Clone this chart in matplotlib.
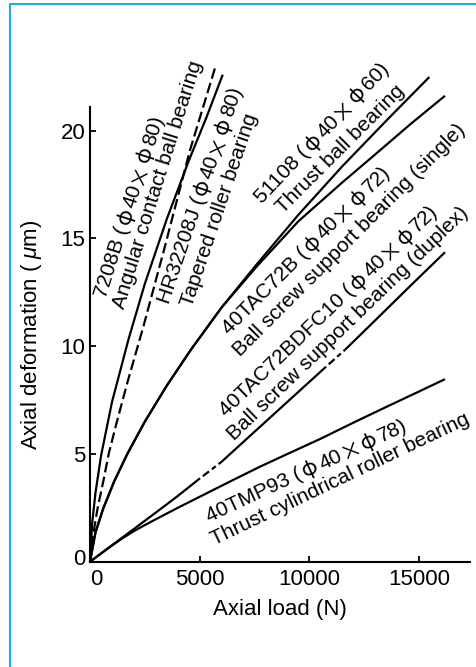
import numpy as np
import matplotlib
matplotlib.use('Agg')
import matplotlib.pyplot as plt
from matplotlib.patches import Rectangle
from matplotlib.transforms import ScaledTranslation
from matplotlib.font_manager import FontProperties

plt.rcParams['font.family'] = ['Liberation Sans', 'DejaVu Sans']
plt.rcParams['mathtext.fontset'] = 'custom'
plt.rcParams['mathtext.it'] = 'Liberation Sans:italic'
plt.rcParams['mathtext.rm'] = 'Liberation Sans'

# ---------------- data (axial load N, axial deformation um) ----------------
angular_load = [0, 100, 250, 500, 1000, 1750, 2500, 3500, 4500, 5300, 6050]
angular_def = [0, 1.8, 3.2, 4.9, 7.4, 10.3, 12.9, 15.9, 18.6, 20.6, 22.6]

tapered_load = [0, 150, 350, 600, 852, 1200, 1700, 2430, 3373, 4558, 5743]
tapered_def = [0, 1.3, 2.5, 3.7, 5.0, 6.4, 8.3, 10.9, 14.47, 19.1, 23.06]

thrustball_load = [0, 250, 600, 1100, 1700, 2500, 3500, 4600, 6000, 7600, 9500, 11500, 13500, 15465]
thrustball_def = [0, 1.36, 2.46, 3.72, 5.0, 6.5, 8.17, 9.84, 11.8, 13.8, 16.1, 18.35, 20.46, 22.49]

single_load = [0, 250, 600, 1100, 1700, 2500, 3500, 4600, 6000, 7600, 9500, 11500, 13000, 14600, 16180]
single_def = [0, 1.36, 2.46, 3.72, 5.0, 6.5, 8.17, 9.84, 11.8, 13.7, 15.8, 17.6, 18.9, 20.3, 21.62]

duplex_load = [0, 500, 1000, 1500, 2000, 3000, 4000, 5014, 6000, 7500, 9000, 10760, 11620, 13000, 14600, 16180]
duplex_def = [0, 0.38, 0.76, 1.14, 1.52, 2.28, 3.05, 3.87, 4.64, 6.03, 7.42, 9.05, 9.83, 11.2, 12.8, 14.36]
# index pairs bounding the broken (dash-dot) stretches of the duplex curve
duplex_breaks = [(7, 8), (11, 12)]

cyl_load = [0, 500, 1000, 1500, 2000, 2500, 3000, 4000, 5014, 6500, 7750, 9000, 10500, 12000, 13500, 15000, 16180]
cyl_def = [0, 0.38, 0.75, 1.1, 1.42, 1.7, 1.97, 2.5, 3.02, 3.78, 4.41, 5.0, 5.7, 6.45, 7.18, 7.9, 8.47]

x_ticks = [0, 5000, 10000, 15000]
y_ticks = [0, 5, 10, 15, 20]

# label text, centre (px from top-left), rotation (deg)
labels = [
    ("7208B (φ40×φ80)", 128, 206, 72.4),
    ("Angular contact ball bearing", 157, 184, 72.5),
    ("HR32208J (φ40×φ80)", 199, 195, 71.3),
    ("Tapered roller bearing", 218, 210, 71.3),
    ("51108 (φ40×φ60)", 321, 132, 46.5),
    ("Thrust ball bearing", 339, 148, 45),
    ("40TAC72B (φ40×φ72)", 305, 249, 45),
    ("Ball screw support bearing (single)", 348, 239, 45),
    ("40TAC72BDFC10 (φ40×φ72)", 328, 310, 44),
    ("Ball screw support bearing (duplex)", 347, 323, 44),
    ("40TMP93 (φ40×φ78)", 306, 470, 25),
    ("Thrust cylindrical roller bearing", 340, 478, 25.5),
]

W, H = 476, 667
fig = plt.figure(figsize=(W / 100, H / 100), dpi=100)
ax = fig.add_axes([90 / W, 1 - 561.7 / H, 380 / W, (561.7 - 107) / H])

# blue frame (cut by the image edges on the right and bottom)
fig.add_artist(Rectangle((10 / W, -0.2), 1.5, (1 - 4 / H) + 0.2, transform=fig.transFigure,
                         fill=False, edgecolor='#29ABE2', lw=1.5))

lw = 1.6
kw = dict(color='black', lw=lw, clip_on=False, solid_capstyle='butt')
ax.plot(angular_load, angular_def, **kw)
ax.plot(tapered_load, tapered_def, color='black', lw=lw, clip_on=False,
        linestyle=(0, (4.8, 2.0)))
ax.plot(thrustball_load, thrustball_def, **kw)
ax.plot(single_load, single_def, **kw)
ax.plot(cyl_load, cyl_def, **kw)

start = 0
for b0, b1 in duplex_breaks:
    ax.plot(duplex_load[start:b0 + 1], duplex_def[start:b0 + 1], **kw)
    ax.plot(duplex_load[b0:b1 + 1], duplex_def[b0:b1 + 1], color='black', lw=lw,
            clip_on=False, linestyle=(2.2, (2.2, 1.6, 3.5, 1.6)))
    start = b1
ax.plot(duplex_load[start:], duplex_def[start:], **kw)

ax.set_xlim(0, 17320)
ax.set_ylim(0, 21.1)
ax.set_xticks(x_ticks)
ax.set_yticks(y_ticks)
ax.set_xticklabels([str(v) for v in x_ticks])
ax.set_yticklabels([str(v) for v in y_ticks])
for s in ['top', 'right']:
    ax.spines[s].set_visible(False)
for s in ['left', 'bottom']:
    ax.spines[s].set_linewidth(1.5)
ax.tick_params(direction='in', length=4.5, width=1.3, labelsize=16)
ax.tick_params(axis='y', pad=3.5)
ax.tick_params(axis='x', pad=5)

xl0 = ax.get_xticklabels()[0]
xl0.set_transform(xl0.get_transform() + ScaledTranslation(6 / 100, 0, fig.dpi_scale_trans))
yl0 = ax.get_yticklabels()[0]
yl0.set_transform(yl0.get_transform() + ScaledTranslation(0, 5 / 100, fig.dpi_scale_trans))

ax.set_xlabel("Axial load (N)", fontsize=16)
ax.set_ylabel("Axial deformation ( $\\mu$m)", fontsize=16)
ax.xaxis.set_label_coords(0.5, -0.082)
ax.yaxis.set_label_coords(-0.121, 0.5)

# ---- rotated labels: Latin in Liberation Sans, φ and × full width from a CJK font ----
LATIN = ['Liberation Sans', 'DejaVu Sans']
CJK = ['Noto Sans CJK JP', 'DejaVu Sans']
FS = 15
EM = FS * 100 / 72
renderer = fig.canvas.get_renderer()


def split_parts(s):
    parts = []
    for ch in s:
        if ch in 'φ×':
            parts.append([ch, CJK])
        elif parts and parts[-1][1] is LATIN:
            parts[-1][0] += ch
        else:
            parts.append([ch, LATIN])
    return parts


def rotated_label(s, cx, cy, rot):
    parts = split_parts(s)
    widths = []
    for txt, fam in parts:
        if fam is CJK:
            widths.append(EM)
        else:
            fp = FontProperties(family=fam, size=FS)
            w, h, d = renderer.get_text_width_height_descent(txt, fp, ismath=False)
            widths.append(w)
    total = sum(widths)
    th = np.deg2rad(rot)
    ux, uy = np.cos(th), np.sin(th)
    nx, ny = -np.sin(th), np.cos(th)
    base_off = 0.33 * EM
    X0 = cx - ux * total / 2 - nx * base_off
    Y0 = (H - cy) - uy * total / 2 - ny * base_off
    pos = 0.0
    for (txt, fam), w in zip(parts, widths):
        if fam is CJK:
            p = pos + w / 2
            ha = 'center'
        else:
            p = pos
            ha = 'left'
        x = X0 + ux * p
        y = Y0 + uy * p
        fig.text(x / W, y / H, txt, family=fam, fontsize=FS, rotation=rot,
                 rotation_mode='anchor', ha=ha, va='baseline')
        pos += w


for txt, px, py, rot in labels:
    rotated_label(txt, px, py, rot)

fig.savefig('out.png', dpi=100)
